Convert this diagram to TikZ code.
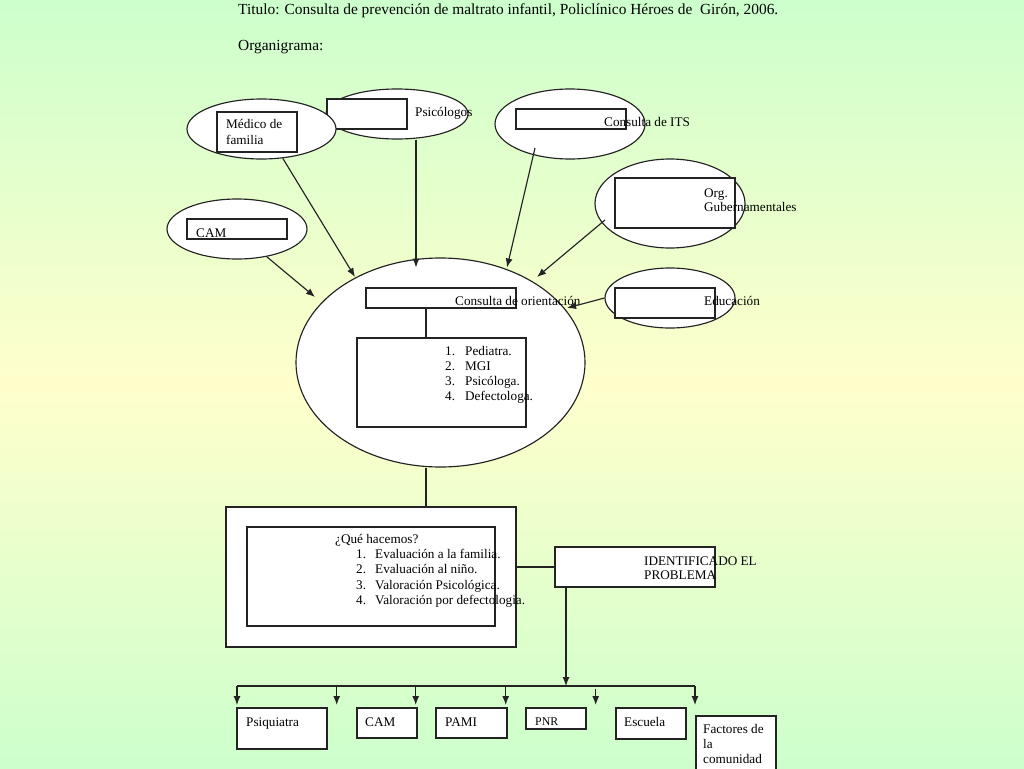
\documentclass[tikz,border=0pt]{standalone}
\usepackage{fontspec}
\setmainfont{Liberation Serif}
\usetikzlibrary{shapes.geometric,arrows.meta}
\definecolor{bggreen}{RGB}{204,255,204}
\definecolor{bgyellow}{RGB}{255,255,204}
\definecolor{ln}{RGB}{35,35,35}
\begin{document}
\begin{tikzpicture}[x=1pt,y=-1pt,
  ell/.style={draw=ln, fill=white, ellipse, inner sep=0pt, line width=1.15pt},
  box/.style={draw=ln, fill=white, rectangle, inner sep=0pt, line width=1.15pt},
  txt/.style={anchor=base west, inner sep=0pt, font=\fontsize{13.2}{15.5}\selectfont, align=left},
  conn/.style={draw=ln, line width=1.15pt},
  arr/.style={conn, -{Latex[length=9pt,width=7pt]}}]
\useasboundingbox (0,0) rectangle (1024,768);
\shade[top color=bggreen, bottom color=bggreen, middle color=bgyellow] (0,0) rectangle (1024,768);

% title
\node[txt, font=\fontsize{15.4}{18}\selectfont] (title) at (238,15) {Titulo: Consulta de prevención de maltrato infantil, Policlínico Héroes de \ Girón, 2006.};
\node[txt, font=\fontsize{15.4}{18}\selectfont] (org) at (238,51) {Organigrama:};

% top ellipses
\node[ell, minimum width=142pt, minimum height=50pt] (psi) at (397,114) {};
\node[box, minimum width=80pt, minimum height=30pt] (psibox) at (367,114) {};
\node[ell, minimum width=149pt, minimum height=60pt] (med) at (261.5,129) {};
\node[box, minimum width=80pt, minimum height=40pt] (medbox) at (257,132) {};
\node[ell, minimum width=140pt, minimum height=60pt] (cam) at (237,229) {};
\node[box, minimum width=100pt, minimum height=20pt] (cambox) at (237,229) {};
\node[ell, minimum width=150pt, minimum height=70pt] (its) at (570,124) {};
\node[box, minimum width=110pt, minimum height=20pt] (itsbox) at (571,119) {};
\node[ell, minimum width=150pt, minimum height=89pt] (gub) at (670,203.5) {};
\node[box, minimum width=120pt, minimum height=50pt] (gubbox) at (675,203) {};

% main ellipse
\node[ell, minimum width=289pt, minimum height=209pt] (main) at (440.5,362.5) {};
\node[box, minimum width=150pt, minimum height=20pt] (orbox) at (441,298) {};
\node[box, minimum width=169pt, minimum height=89pt] (inner) at (441.5,382.5) {};
\node[ell, minimum width=130pt, minimum height=60pt] (edu) at (670,298) {};
\node[box, minimum width=100pt, minimum height=30pt] (edubox) at (665,303) {};

% lower boxes
\node[box, minimum width=290pt, minimum height=140pt] (outer) at (371,577) {};
\node[box, minimum width=248pt, minimum height=99pt] (what) at (371,576.5) {};
\node[box, minimum width=160pt, minimum height=40pt] (ident) at (635,567) {};

% bottom boxes
\node[box, minimum width=90pt, minimum height=41pt] (psq) at (282,728.5) {};
\node[box, minimum width=60pt, minimum height=30pt] (cam2) at (387,723) {};
\node[box, minimum width=71pt, minimum height=30pt] (pami) at (471.5,723) {};
\node[box, minimum width=60pt, minimum height=21pt] (pnr) at (556,718.5) {};
\node[box, minimum width=70pt, minimum height=31pt] (esc) at (651,723.5) {};
\node[box, minimum width=80pt, minimum height=74pt] (fac) at (736,753) {};

% texts (multi-line nodes: base = last line)
\node[txt] (tmed) at (226,144) {Médico de\\familia};
\node[txt] (tpsi) at (415,116.7) {Psicólogos};
\node[txt] (tcam) at (196,237) {CAM};
\node[txt] (tits) at (604,126) {Consulta de ITS};
\node[txt, font=\fontsize{13.2}{14.5}\selectfont] (tgub) at (704,211.5) {Org.\\Gubernamentales};
\node[txt] (tedu) at (704,305) {Educación};
\node[txt] (tor) at (455,305.5) {Consulta de orientación};
\foreach \n/\t [count=\i] in {1./Pediatra., 2./MGI, 3./Psicóloga., 4./Defectologa.}{
  \node[txt] (pn\i) at (445,340+15*\i) {\n};
  \node[txt] (pt\i) at (465,340+15*\i) {\t};
}
\node[txt] (tque) at (335,543.5) {¿Qué hacemos?};
\foreach \n/\t [count=\i] in {1./Evaluación a la familia., 2./Evaluación al niño., 3./Valoración Psicológica., 4./Valoración por defectologia.}{
  \node[txt] (qn\i) at (356,543.3+15.3*\i) {\n};
  \node[txt] (qt\i) at (375,543.3+15.3*\i) {\t};
}
\node[txt, font=\fontsize{13.2}{14.5}\selectfont] (tident) at (644,579.5) {IDENTIFICADO EL\\PROBLEMA};
\node[txt] (tpsq) at (246,726.7) {Psiquiatra};
\node[txt] (tcam2) at (365,726.7) {CAM};
\node[txt] (tpami) at (445,726.7) {PAMI};
\node[txt, font=\fontsize{11.8}{14}\selectfont] (tpnr) at (535,725) {PNR};
\node[txt] (tesc) at (624,726) {Escuela};
\node[txt, font=\fontsize{13.2}{15}\selectfont] (tfac) at (703,763.5) {Factores de\\la\\comunidad};

% coordinates for connector ends
\coordinate (t1) at (355,277);
\coordinate (t2) at (416,267.5);
\coordinate (s3) at (535,148);
\coordinate (t3) at (507,267.5);
\coordinate (s4) at (605,220);
\coordinate (t4) at (537,277);
\coordinate (t5) at (315,297);
\coordinate (t6) at (567,308);
\coordinate (vx) at (426,0);
\coordinate (bx) at (566,686);
\coordinate (bl) at (237,686);
\coordinate (br) at (695,686);
\coordinate (d1) at (237,705);
\coordinate (d2) at (336.7,705);
\coordinate (d3) at (415.7,705);
\coordinate (d4) at (505.7,705);
\coordinate (e5) at (595.7,688.5);
\coordinate (d5) at (595.7,705);
\coordinate (d6) at (695,705);

% connectors
\draw[arr] (med.-54) -- (t1);
\draw[arr] (psi.south -| t2) -- (t2);
\draw[arr] (s3) -- (t3);
\draw[arr] (s4) -- (t4);
\draw[arr] (cam.-43) -- (t5);
\draw[arr] (edu.west) -- (t6);
\draw[conn] (orbox.south -| vx) -- (inner.north -| vx);
\draw[conn] (main.south -| vx) -- (outer.north -| vx);
\draw[conn] (outer.east |- ident.west) -- (ident.west);
\draw[arr] (ident.south -| bx) -- (bx);
\draw[conn] (bl) -- (br);
\draw[arr] (bl) -- (d1);
\draw[arr] (d2 |- bl) -- (d2);
\draw[arr] (d3 |- bl) -- (d3);
\draw[arr] (d4 |- bl) -- (d4);
\draw[arr] (e5) -- (d5);
\draw[arr] (br) -- (d6);
\end{tikzpicture}
\end{document}
